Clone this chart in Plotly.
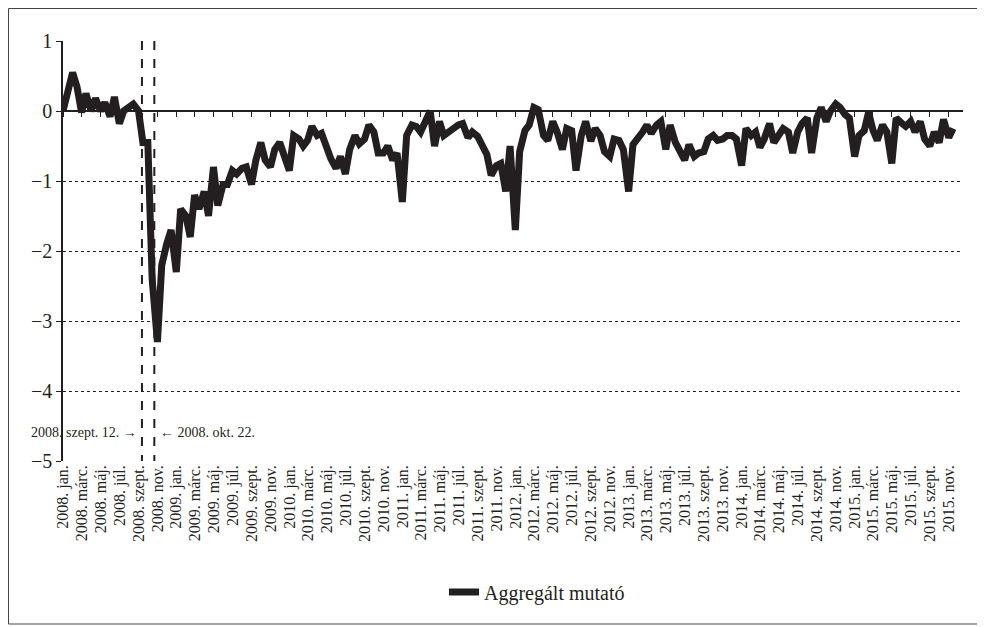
import pandas as pd
import plotly.graph_objects as go

# Semi-monthly readings (1st and 15th of each month), Jan 2008 - Dec 2015
values_2008 = [0.0, 0.3, 0.55, 0.35, -0.02, 0.25, 0.0, 0.18, 0.0, 0.12, -0.08, 0.2,
               -0.18, 0.0, 0.05, 0.1, 0.0, -0.45, -0.45, -2.4, -3.3, -2.2, -1.9, -1.7]
values_2009 = [-2.3, -1.4, -1.5, -1.8, -1.2, -1.4, -1.15, -1.5, -0.8, -1.35, -1.05, -1.05,
               -0.85, -0.9, -0.82, -0.8, -1.05, -0.7, -0.45, -0.7, -0.8, -0.55, -0.45, -0.65]
values_2010 = [-0.85, -0.35, -0.4, -0.5, -0.42, -0.22, -0.35, -0.32, -0.55, -0.68, -0.82, -0.65,
               -0.9, -0.55, -0.35, -0.47, -0.4, -0.2, -0.3, -0.6, -0.6, -0.5, -0.7, -0.6]
values_2011 = [-1.3, -0.35, -0.2, -0.22, -0.3, -0.17, 0.0, -0.5, -0.15, -0.35, -0.28, -0.25,
               -0.2, -0.18, -0.38, -0.3, -0.36, -0.5, -0.62, -0.92, -0.78, -0.75, -1.15, -0.5]
values_2012 = [-1.7, -0.58, -0.28, -0.2, 0.05, 0.02, -0.35, -0.42, -0.15, -0.3, -0.55, -0.25,
               -0.28, -0.85, -0.35, -0.15, -0.43, -0.25, -0.35, -0.58, -0.65, -0.4, -0.42, -0.55]
values_2013 = [-1.15, -0.48, -0.4, -0.3, -0.2, -0.32, -0.2, -0.15, -0.55, -0.2, -0.45, -0.55,
               -0.7, -0.48, -0.65, -0.6, -0.58, -0.4, -0.35, -0.42, -0.4, -0.35, -0.35, -0.4]
values_2014 = [-0.78, -0.25, -0.35, -0.3, -0.52, -0.4, -0.18, -0.45, -0.35, -0.25, -0.3, -0.6,
               -0.3, -0.18, -0.1, -0.6, -0.1, 0.05, -0.15, 0.0, 0.1, 0.05, -0.05, -0.1]
values_2015 = [-0.65, -0.35, -0.28, -0.02, -0.27, -0.42, -0.2, -0.3, -0.75, -0.1, -0.17, -0.22,
               -0.15, -0.3, -0.15, -0.4, -0.5, -0.3, -0.45, -0.12, -0.38, -0.25]

values = (values_2008 + values_2009 + values_2010 + values_2011 +
          values_2012 + values_2013 + values_2014 + values_2015)
dates = pd.date_range("2008-01-01", periods=len(values), freq="SMS")

month_names = {1: "jan.", 3: "márc.", 5: "máj.", 7: "júl.", 9: "szept.", 11: "nov."}
tick_dates = pd.date_range("2008-01-01", "2015-11-01", freq="2MS")
tick_labels = [f"{d.year}. {month_names[d.month]}" for d in tick_dates]

y_ticks = [1, 0, -1, -2, -3, -4, -5]
y_labels = ["1", "0", "−1", "−2", "−3", "−4", "−5"]

event_dates = ["2008-09-12", "2008-10-22"]
event_labels = ["2008. szept. 12. →", "← 2008. okt. 22."]
series_name = "Aggregált mutató"

FONT = "Liberation Serif"
INK = "#231f20"

# the page has an 8px body margin: shrink and offset the figure accordingly
OFF = 8
W, H = 985 - OFF, 627 - OFF
L, T = 63 - OFF, 41 - OFF
pw, ph = 900, 420
R, B = W - L - pw, H - T - ph


def px_x(p):
    return (p - OFF - L) / pw


def px_y(q):
    return (T + ph - (q - OFF)) / ph


x_range = ["2008-01-01", "2015-12-17"]

fig = go.Figure()
fig.add_trace(go.Scatter(
    x=dates, y=values, mode="lines", name=series_name,
    line=dict(color=INK, width=7), showlegend=True,
))
fig.add_trace(go.Scatter(x=[dates[0]], y=[None], xaxis="x2", showlegend=False,
                         hoverinfo="skip", mode="lines"))

shapes = []
for d in event_dates:
    shapes.append(dict(type="line", xref="x", yref="y", x0=d, x1=d, y0=1, y1=-5,
                       line=dict(color=INK, width=2, dash="dash"), layer="below"))
shapes.append(dict(type="rect", xref="paper", yref="paper",
                   x0=px_x(OFF + 0.5), x1=px_x(982), y0=px_y(624), y1=px_y(OFF + 0.5),
                   line=dict(color="#444444", width=1), layer="below"))

annotations = [
    dict(x=event_dates[0], y=-4.59, xref="x", yref="y", text=event_labels[0],
         showarrow=False, xanchor="right", xshift=-3, font=dict(family=FONT, size=14, color=INK)),
    dict(x=event_dates[1], y=-4.59, xref="x", yref="y", text=event_labels[1],
         showarrow=False, xanchor="left", xshift=4, font=dict(family=FONT, size=14, color=INK)),
]

fig.update_layout(
    width=W, height=H,
    margin=dict(l=L, r=R, t=T, b=B, autoexpand=False),
    paper_bgcolor="white", plot_bgcolor="white",
    font=dict(family=FONT, color=INK),
    shapes=shapes, annotations=annotations,
    xaxis=dict(
        type="date", range=x_range, tickmode="array", tickvals=tick_dates, ticktext=tick_labels,
        tickangle=-90, tickfont=dict(family=FONT, size=16, color=INK),
        showgrid=False, zeroline=False, showline=False, ticks="",
    ),
    xaxis2=dict(
        type="date", range=x_range, overlaying="x", anchor="free", position=5 / 6,
        tickmode="array", tickvals=tick_dates, showticklabels=False,
        ticks="outside", ticklen=5, tickwidth=1, tickcolor=INK,
        showgrid=False, zeroline=False, showline=False,
    ),
    yaxis=dict(
        range=[-5, 1], tickmode="array", tickvals=y_ticks, ticktext=y_labels,
        tickfont=dict(family=FONT, size=20, color=INK),
        showgrid=True, gridcolor=INK, gridwidth=1, griddash="dot",
        zeroline=True, zerolinecolor=INK, zerolinewidth=1.5,
        showline=True, linecolor=INK, linewidth=1.5,
        ticks="outside", ticklen=5, tickcolor=INK,
    ),
    legend=dict(
        x=px_x(444), y=px_y(592), xanchor="left", yanchor="middle",
        orientation="h", itemwidth=30,
        font=dict(family=FONT, size=20, color=INK), bgcolor="rgba(0,0,0,0)",
    ),
)

fig.write_html("out.html")
